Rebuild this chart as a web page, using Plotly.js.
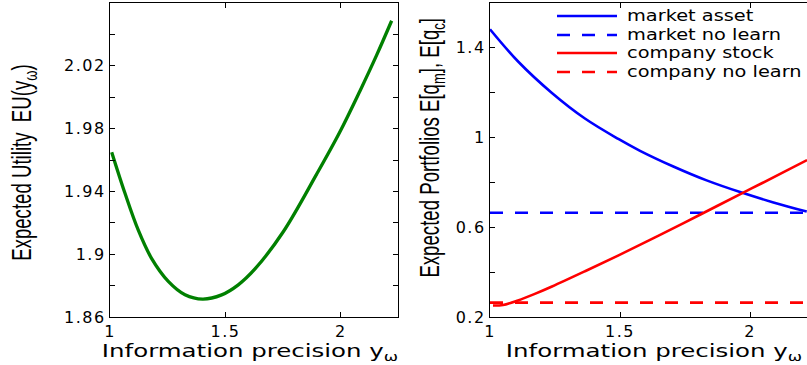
<!DOCTYPE html>
<html>
<head>
<meta charset="utf-8">
<script src="https://cdn.plot.ly/plotly-3.0.1.min.js"></script>
<style>
  html, body { margin: 0; padding: 0; background: #fff; }
  .xtick text, .ytick text, .x2tick text, .y2tick text { letter-spacing: 1.5px; }
  .annotation[data-index="0"] text.annotation-text, .annotation[data-index="1"] text.annotation-text {
    transform-box: fill-box; transform-origin: center; transform: scaleX(1.36); }
  .annotation[data-index="2"] text.annotation-text, .annotation[data-index="3"] text.annotation-text {
    transform-box: fill-box; transform-origin: center; transform: scaleX(0.69); }
  .annotation[data-index="4"] text.annotation-text, .annotation[data-index="5"] text.annotation-text,
  .annotation[data-index="6"] text.annotation-text, .annotation[data-index="7"] text.annotation-text {
    transform-box: fill-box; transform-origin: left center; transform: scaleX(1.29); }
</style>
</head>
<body>
<div id="chart" style="width:807px;height:365px;"></div>
<script>
// ---- Left panel: expected utility vs information precision ----
const xEU = [1.0074, 1.0649, 1.1225, 1.1805, 1.2524, 1.3247, 1.4013, 1.4835, 1.5554, 1.6277, 1.7502, 1.8948, 1.9957, 2.0823, 2.1545, 2.2195];
const expectedUtility = [1.9650, 1.9388, 1.9153, 1.8972, 1.8827, 1.8742, 1.8714, 1.8741, 1.8805, 1.8906, 1.9143, 1.9510, 1.9780, 2.0040, 2.0268, 2.0487];

// ---- Right panel: expected portfolios ----
const xMarket = [1.0, 1.109, 1.237, 1.365, 1.4935, 1.577, 1.705, 1.833, 1.9615, 2.09, 2.218];
const marketAsset = [1.483, 1.338, 1.200, 1.085, 0.994, 0.941, 0.871, 0.809, 0.757, 0.711, 0.670];
const xCompany = [1.0115, 1.05, 1.1077, 1.17, 1.2385, 1.3654, 1.4923, 1.6192, 1.7462, 1.8769, 2.0038, 2.1308, 2.2192];
const companyStock = [0.251, 0.2535, 0.274, 0.302, 0.336, 0.404, 0.474, 0.546, 0.620, 0.697, 0.772, 0.847, 0.8996];
const xNoLearn = [1.0, 2.25];
const marketNoLearn = [0.665, 0.665];
const companyNoLearn = [0.264, 0.264];

// ---- Ticks and labels ----
const xTickVals = [1, 1.5, 2];
const xTickText = ['1', '1.5', '2'];
const euTickVals = [1.86, 1.90, 1.94, 1.98, 2.02];
const euTickText = ['1.86', '1.9', '1.94', '1.98', '2.02'];
const euMinorVals = [1.88, 1.92, 1.96, 2.00, 2.04];
const qTickVals = [0.2, 0.6, 1.0, 1.4];
const qTickText = ['0.2', '0.6', '1', '1.4'];
const qMinorVals = [0.4, 0.8, 1.2];
const seriesNames = ['market asset', 'market no learn', 'company stock', 'company no learn'];
const seriesColors = ['#0000ff', '#0000ff', '#ff0000', '#ff0000'];
const seriesDash = ['solid', '13px,12px', 'solid', '13px,12px'];
const xTitle = 'Information precision y<sub>ω</sub>';
const yTitleLeft = 'Expected Utility  EU(y<sub>ω</sub>)';
const yTitleRight = 'Expected Portfolios E[q<sub>m</sub>], E[q<sub>c</sub>]';

const W = 807, H = 365, MT = 3, MB = 48;
const PH = H - MT - MB;
const px = v => v / W;
const py = v => (H - MB - v) / PH;

const tickFont = { family: 'DejaVu Sans, Arial, sans-serif', size: 16, color: '#000' };
const titleFamily = 'Liberation Sans, Arial, sans-serif';

const traces = [
  { x: xEU, y: expectedUtility, xaxis: 'x', yaxis: 'y', mode: 'lines',
    line: { color: '#008000', width: 3.3, shape: 'spline', smoothing: 1 }, name: 'EU' },
  { x: xMarket, y: marketAsset, xaxis: 'x2', yaxis: 'y2', mode: 'lines',
    line: { color: seriesColors[0], width: 2.6, shape: 'spline', smoothing: 1, dash: seriesDash[0] }, name: seriesNames[0] },
  { x: xNoLearn, y: marketNoLearn, xaxis: 'x2', yaxis: 'y2', mode: 'lines',
    line: { color: seriesColors[1], width: 2.6, dash: seriesDash[1] }, name: seriesNames[1] },
  { x: xCompany, y: companyStock, xaxis: 'x2', yaxis: 'y2', mode: 'lines',
    line: { color: seriesColors[2], width: 2.6, shape: 'spline', smoothing: 1, dash: seriesDash[2] }, name: seriesNames[2] },
  { x: xNoLearn, y: companyNoLearn, xaxis: 'x2', yaxis: 'y2', mode: 'lines',
    line: { color: seriesColors[3], width: 2.6, dash: seriesDash[3] }, name: seriesNames[3] }
];

const axisCommon = {
  showline: true, linecolor: '#000', linewidth: 1.2, ticks: 'inside', ticklen: 5, tickwidth: 1,
  tickcolor: '#000', showgrid: false, zeroline: false, tickfont: tickFont, fixedrange: true, tickmode: 'array'
};
const minorCommon = { ticks: 'inside', ticklen: 5, tickwidth: 1, tickcolor: '#000', showgrid: false, tickmode: 'array' };

const annotations = [
  { text: xTitle, x: px(250), y: py(351.5) },
  { text: xTitle, x: px(654), y: py(351.5) },
  { text: yTitleLeft, x: px(24), y: py(163), textangle: -90, font: { family: titleFamily, size: 27, color: '#000' } },
  { text: yTitleRight, x: px(432), y: py(148), textangle: -90, font: { family: titleFamily, size: 27, color: '#000' } }
].map(a => Object.assign({ xref: 'paper', yref: 'paper', showarrow: false, xanchor: 'center', yanchor: 'middle',
  borderpad: 0, font: { family: 'DejaVu Sans, Arial, sans-serif', size: 18, color: '#000' } }, a));

const legendRows = [16, 35, 53, 72];
const shapes = [];
seriesNames.forEach((name, i) => {
  shapes.push({ type: 'line', xref: 'paper', yref: 'paper', x0: px(557), x1: px(617), y0: py(legendRows[i]), y1: py(legendRows[i]),
    line: { color: seriesColors[i], width: 2.6, dash: seriesDash[i] } });
  annotations.push({ text: name, xref: 'paper', yref: 'paper', x: px(625), y: py(legendRows[i]), xanchor: 'left', yanchor: 'middle',
    showarrow: false, font: { family: 'DejaVu Sans, Arial, sans-serif', size: 15, color: '#000' } });
});

const layout = {
  width: W, height: H, margin: { l: 0, r: 0, t: MT, b: MB, pad: 0 },
  paper_bgcolor: '#fff', plot_bgcolor: '#fff', showlegend: false,
  xaxis: Object.assign({}, axisCommon, { domain: [px(110), px(398)], range: [1, 2.247], anchor: 'y', mirror: 'ticks',
    tickvals: xTickVals, ticktext: xTickText }),
  yaxis: Object.assign({}, axisCommon, { domain: [0, 1], range: [1.86, 2.06], anchor: 'x', mirror: 'ticks',
    tickvals: euTickVals, ticktext: euTickText, minor: Object.assign({}, minorCommon, { tickvals: euMinorVals }) }),
  xaxis2: Object.assign({}, axisCommon, { domain: [px(490), 1], range: [1, 2.219], anchor: 'y2', mirror: 'ticks',
    tickvals: xTickVals, ticktext: xTickText }),
  yaxis2: Object.assign({}, axisCommon, { domain: [0, 1], range: [0.2, 1.6], anchor: 'x2', mirror: false,
    tickvals: qTickVals, ticktext: qTickText, minor: Object.assign({}, minorCommon, { tickvals: qMinorVals }) }),
  annotations: annotations,
  shapes: shapes
};

Plotly.newPlot('chart', traces, layout, { displayModeBar: false, staticPlot: true });
</script>
</body>
</html>
